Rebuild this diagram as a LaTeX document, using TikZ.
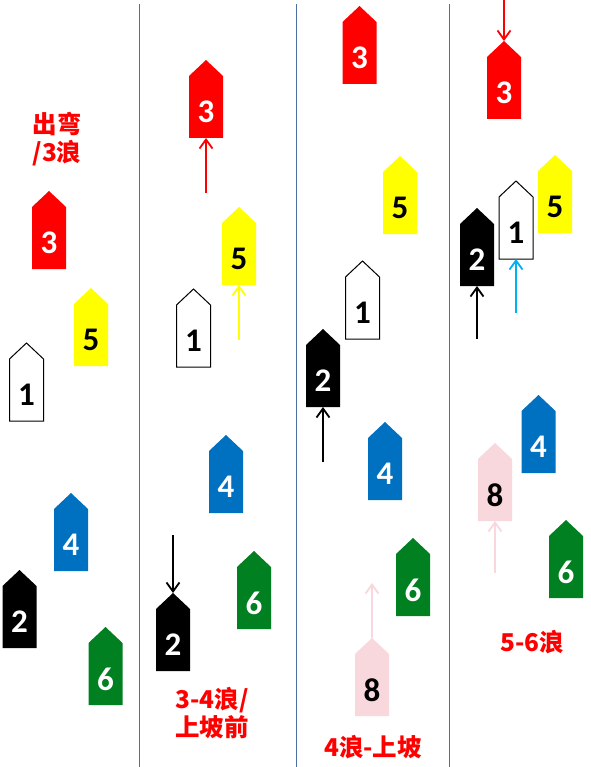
\documentclass[tikz,border=0pt]{standalone}
\usepackage{fontspec}
\setmainfont{Carlito}[BoldFont={Carlito Bold}]
\newfontfamily\cjk{Noto Sans CJK SC}
\usetikzlibrary{arrows.meta}
\definecolor{bred}{RGB}{255,0,0}
\definecolor{byel}{RGB}{255,255,0}
\definecolor{bblue}{RGB}{0,112,192}
\definecolor{bgreen}{RGB}{0,128,32}
\definecolor{bpink}{RGB}{249,216,221}
\definecolor{bcyan}{RGB}{0,176,240}
\definecolor{sepcol}{RGB}{74,112,166}
\tikzset{
  redboat/.style={fill=bred},
  yelboat/.style={fill=byel},
  blueboat/.style={fill=bblue},
  greenboat/.style={fill=bgreen},
  blackboat/.style={fill=black},
  pinkboat/.style={fill=bpink},
  whiteboat/.style={fill=white,draw=black,line width=1pt},
  num/.style={font=\fontsize{33}{33}\selectfont\bfseries, inner sep=0pt},
  lab/.style={font=\cjk\bfseries\fontsize{24.5}{28}\selectfont, text=bred, align=center, inner sep=0pt},
  arr/.style={line width=1.8pt, -{Straight Barb[length=9pt,width=13pt,line width=1.8pt]}},
  sepline/.style={draw=sepcol, line width=1pt},
}
\newcommand\boat[6]{%
  \path[#4] ({#2-17},{#3+78}) -- ({#2-17},{#3+16}) -- (#2,#3) -- ({#2+17},{#3+16}) -- ({#2+17},{#3+78}) -- cycle;
  \coordinate (#1-tip) at (#2,#3);
  \coordinate (#1-bot) at (#2,{#3+78});
  \node[num,text=#5] (#1) at (#2,{#3+52}) {#6};
}
\begin{document}
\begin{tikzpicture}[x=1pt,y=-1pt]
\fill[white] (0,0) rectangle (590,767);
\useasboundingbox (0,0) rectangle (590,767);
% separators
\coordinate (s1t) at (139,4); \coordinate (s1b) at (139,767);
\coordinate (s2t) at (296,4); \coordinate (s2b) at (296,767);
\coordinate (s3t) at (449,4); \coordinate (s3b) at (449,767);
\draw[sepline] (s1t) -- (s1b);
\draw[sepline] (s2t) -- (s2b);
\draw[sepline] (s3t) -- (s3b);
% column 1
\node[lab] (l1) at (57,139) {出弯\\/3浪};
\boat{a3}{49}{191}{redboat}{white}{3}
\boat{a5}{91}{288}{yelboat}{black}{5}
\boat{a1}{26.5}{343}{whiteboat}{black}{1}
\boat{a4}{71}{493}{blueboat}{white}{4}
\boat{a2}{19.5}{570}{blackboat}{white}{2}
\boat{a6}{105.5}{627}{greenboat}{white}{6}
% column 2
\boat{b3}{206}{60}{redboat}{white}{3}
\boat{b5}{239}{207}{yelboat}{black}{5}
\boat{b1}{193.5}{289}{whiteboat}{black}{1}
\boat{b4}{226}{435}{blueboat}{white}{4}
\boat{b6}{254}{551}{greenboat}{white}{6}
\boat{b2}{173}{593}{blackboat}{white}{2}
\coordinate (b3s) at (206,193);
\coordinate (b5s) at (239,340);
\coordinate (b2s) at (173,535);
\draw[arr,bred] (b3s) -- (b3-bot);
\draw[arr,byel] (b5s) -- (b5-bot);
\draw[arr,black] (b2s) -- (b2-tip);
\node[lab] (l2) at (212,713) {3-4浪/\\上坡前};
% column 3
\boat{c3}{359.5}{6}{redboat}{white}{3}
\boat{c5}{400}{156}{yelboat}{black}{5}
\boat{c1}{362.5}{261}{whiteboat}{black}{1}
\boat{c2}{323}{329}{blackboat}{white}{2}
\boat{c4}{385}{422}{blueboat}{white}{4}
\boat{c6}{413}{538}{greenboat}{white}{6}
\boat{c8}{372}{638}{pinkboat}{black}{8}
\coordinate (c2s) at (323,462);
\coordinate (c8e) at (372,583);
\draw[arr,black] (c2s) -- (c2-bot);
\draw[arr,bpink] (c8-tip) -- (c8e);
\node[lab] (l3) at (373,747) {4浪-上坡};
% column 4
\boat{d3}{504}{41}{redboat}{white}{3}
\boat{d1}{516}{181}{whiteboat}{black}{1}
\boat{d5}{555}{155}{yelboat}{black}{5}
\boat{d2}{477}{208}{blackboat}{white}{2}
\boat{d4}{538.5}{395}{blueboat}{white}{4}
\boat{d8}{495}{443}{pinkboat}{black}{8}
\boat{d6}{566}{520}{greenboat}{white}{6}
\coordinate (d3s) at (504,0);
\coordinate (d1s) at (516,313);
\coordinate (d2s) at (477,339);
\coordinate (d8s) at (495,573);
\draw[arr,bred] (d3s) -- (d3-tip);
\draw[arr,bcyan] (d1s) -- (d1-bot);
\draw[arr,black] (d2s) -- (d2-bot);
\draw[arr,bpink] (d8s) -- (d8-bot);
\node[lab] (l4) at (532,642) {5-6浪};
\end{tikzpicture}
\end{document}
